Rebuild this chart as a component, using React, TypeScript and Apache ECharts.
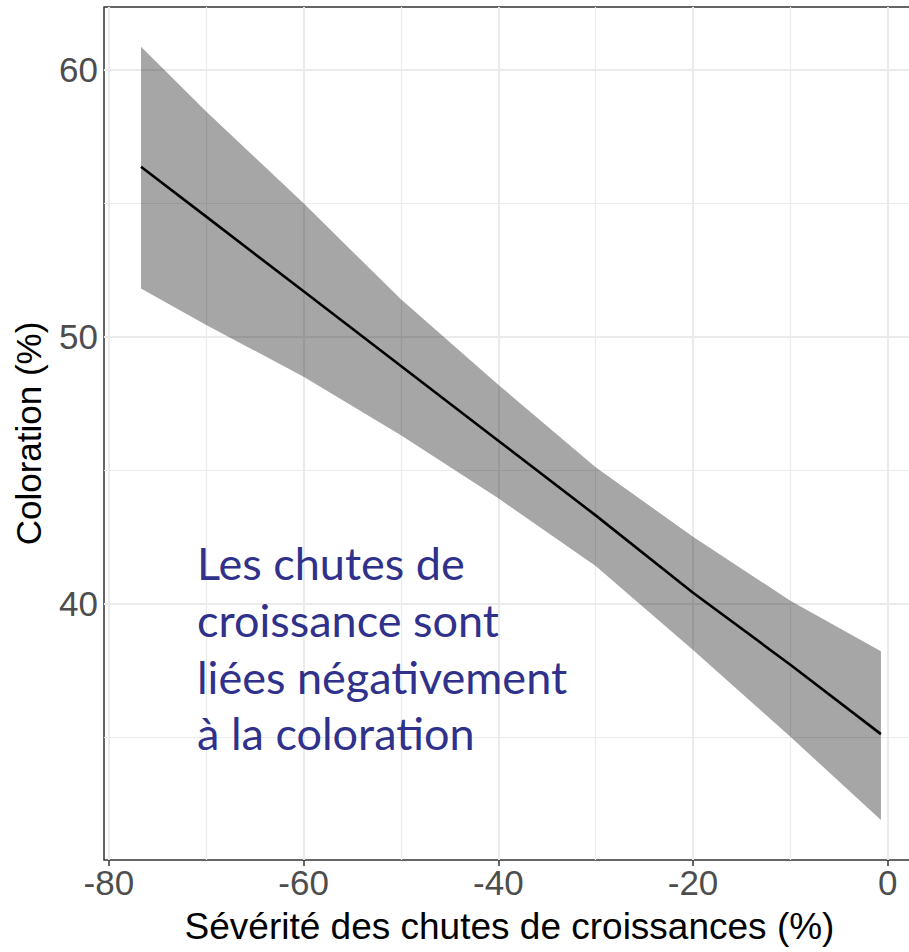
import React, { useEffect, useRef } from "react";
import * as echarts from "echarts";

// Regression fit and its confidence band
const xValues = [-76.7, -70, -60, -50, -40, -30, -20, -10, -0.7];
const fitValues = [56.37, 54.5, 51.7, 48.9, 46.1, 43.3, 40.4, 37.7, 35.1];
const upperValues = [60.87, 58.44, 55.0, 51.4, 48.2, 45.1, 42.5, 40.1, 38.21];
const lowerValues = [51.81, 50.44, 48.5, 46.3, 43.94, 41.4, 38.25, 35.0, 31.88];

// Axis ticks and grid lines
const xTicks = [-80, -60, -40, -20, 0];
const xMinorTicks = [-70, -50, -30, -10];
const yTicks = [40, 50, 60];
const yMinorTicks = [35, 45, 55];

const xTitle = "Sévérité des chutes de croissances (%)";
const yTitle = "Coloration (%)";
const noteLines = [
  "Les chutes de",
  "croissance sont",
  "liées négativement",
  "à la coloration",
];

export default function App() {
  const ref = useRef<HTMLDivElement>(null);

  useEffect(() => {
    if (!ref.current) return;
    const chart = echarts.init(ref.current, null, { renderer: "svg" });

    const gridLineData = [
      ...xTicks.map((v) => ({ xAxis: v, lineStyle: { width: 2 } })),
      ...xMinorTicks.map((v) => ({ xAxis: v, lineStyle: { width: 1.2 } })),
      ...yTicks.map((v) => ({ yAxis: v, lineStyle: { width: 2 } })),
      ...yMinorTicks.map((v) => ({ yAxis: v, lineStyle: { width: 1.2 } })),
    ];

    const font = "'Liberation Sans', Arial, sans-serif";

    const bandData = xValues.map((x, i) => [x, lowerValues[i], upperValues[i]]);

    chart.setOption({
      animation: false,
      backgroundColor: "#ffffff",
      grid: {
        left: 104,
        top: 7,
        width: 811,
        height: 853,
        show: true,
        borderColor: "#333333",
        borderWidth: 1.5,
        backgroundColor: "transparent",
        containLabel: false,
        outerBoundsMode: "none",
      },
      xAxis: {
        type: "value",
        min: -80.5,
        max: 2.8,
        axisLine: { show: false },
        splitLine: { show: false },
        axisTick: {
          show: true,
          customValues: xTicks,
          length: 6,
          lineStyle: { color: "#333333", width: 1.5 },
        },
        axisLabel: {
          customValues: xTicks,
          color: "#4D4D4D",
          fontSize: 35,
          fontFamily: font,
          margin: 5,
        },
        name: xTitle,
        nameLocation: "middle",
        nameGap: 48,
        nameTextStyle: { color: "#000000", fontSize: 37, fontFamily: font },
      },
      yAxis: {
        type: "value",
        min: 30.38,
        max: 62.36,
        axisLine: { show: false },
        splitLine: { show: false },
        axisTick: {
          show: true,
          customValues: yTicks,
          length: 6,
          lineStyle: { color: "#333333", width: 1.5 },
        },
        axisLabel: {
          customValues: yTicks,
          color: "#4D4D4D",
          fontSize: 35,
          fontFamily: font,
          margin: 6,
        },
        name: yTitle,
        nameLocation: "middle",
        nameGap: 58,
        nameTextStyle: { color: "#000000", fontSize: 35, fontFamily: font },
      },
      series: [
        {
          type: "line",
          data: [],
          z: 1,
          silent: true,
          markLine: {
            silent: true,
            z: 1,
            symbol: ["none", "none"],
            label: { show: false },
            lineStyle: { color: "#EBEBEB", type: "solid" },
            data: gridLineData,
          },
        },
        {
          type: "custom",
          z: 2,
          silent: true,
          data: bandData,
          encode: { x: 0, y: [1, 2] },
          renderItem: (params: any, api: any) => {
            if (params.dataIndex !== 0) return null;
            const upperPts = bandData.map((d) => api.coord([d[0], d[2]]));
            const lowerPts = bandData
              .map((d) => api.coord([d[0], d[1]]))
              .reverse();
            return {
              type: "polygon",
              shape: { points: upperPts.concat(lowerPts) },
              style: { fill: "rgba(0,0,0,0.35)" },
            };
          },
        },
        {
          type: "line",
          z: 3,
          data: xValues.map((x, i) => [x, fitValues[i]]),
          showSymbol: false,
          lineStyle: { color: "#000000", width: 2.6 },
          silent: true,
        },
      ],
      graphic: noteLines.map((t, i) => ({
        type: "text",
        x: 197,
        y: 563 + i * 56.8,
        z: 10,
        style: {
          text: t,
          fill: "#2F318B",
          font: "45px Lato, 'Open Sans', sans-serif",
          verticalAlign: "middle",
          align: "left",
        },
      })),
    });

    return () => chart.dispose();
  }, []);

  return (
    <div
      style={{
        position: "fixed",
        left: 0,
        top: 0,
        width: 909,
        height: 952,
        overflow: "hidden",
        background: "#ffffff",
      }}
    >
      <div ref={ref} style={{ width: 930, height: 952 }} />
    </div>
  );
}
